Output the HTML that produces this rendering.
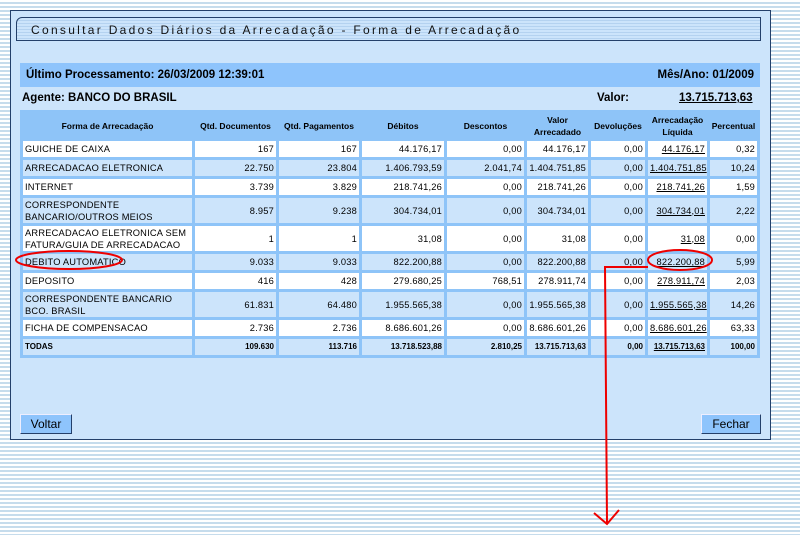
<!DOCTYPE html>
<html><head><meta charset="utf-8"><style>
body{margin:0;width:800px;height:535px;overflow:hidden;position:relative;font-family:"Liberation Sans",sans-serif;
background:repeating-linear-gradient(to bottom,#ffffff 0,#ffffff 2px,#c6dcec 2px,#c6dcec 4px);}
.abs{position:absolute}
#panel{left:10px;top:10px;width:759px;height:428px;background:#cce4fb;border:1px solid #24406a;}
#title{left:16px;top:17px;width:745px;height:24px;background:repeating-linear-gradient(to bottom,#cce4fb 0,#cce4fb 2px,#b4d2f0 2px,#b4d2f0 3px);border:1px solid #24406a;border-top-left-radius:6px;font-size:12px;letter-spacing:2.3px;line-height:24px;padding-left:14px;box-sizing:border-box;color:#111}
#bar{left:20px;top:63px;width:740px;height:24px;background:#8ec4fc;font-weight:bold;font-size:11.5px;line-height:24px}
table{position:absolute;left:20px;top:110px;width:740px;border-collapse:separate;border-spacing:3px;background:#8ec4f8;table-layout:fixed;font-size:9.3px;letter-spacing:0.2px;margin:0}
td,th{padding:0 2px;overflow:hidden;white-space:nowrap}
th{font-weight:bold;font-size:8.5px;letter-spacing:0;background:#8ec4f8;height:25px;line-height:12px;padding:0}
td{height:16px;line-height:10px}
td.n{text-align:right}
tr.w td{background:#fff}
tr.b td{background:#cce4fb}
tr.h2 td{height:25px;line-height:12px}
u{text-decoration:underline}
.btn{background:#8ec4fc;border:1px solid #24406a;border-top-color:#eef;border-left-color:#eef;font-size:12px;text-align:center;line-height:18px;height:18px}
</style></head><body>
<div id="panel" class="abs"></div>
<div id="title" class="abs">Consultar Dados Diários da Arrecadação - Forma de Arrecadação</div>
<div id="bar" class="abs"><span style="margin-left:6px">Último Processamento: 26/03/2009 12:39:01</span><span style="position:absolute;right:6px">Mês/Ano: 01/2009</span></div>
<div class="abs" style="left:22px;top:92px;font-weight:bold;font-size:11.5px">Agente: BANCO DO BRASIL</div>
<div class="abs" style="left:597px;top:92px;font-weight:bold;font-size:11.5px">Valor:</div>
<div class="abs" style="left:679px;top:92px;font-weight:bold;font-size:11.5px;text-decoration:underline">13.715.713,63</div>
<table>
<colgroup><col style="width:169px"><col style="width:81px"><col style="width:80px"><col style="width:82px"><col style="width:77px"><col style="width:61px"><col style="width:54px"><col style="width:59px"><col style="width:47px"></colgroup>
<tr><th>Forma de Arrecadação</th><th>Qtd. Documentos</th><th>Qtd. Pagamentos</th><th>Débitos</th><th>Descontos</th><th>Valor<br>Arrecadado</th><th>Devoluções</th><th>Arrecadação<br>Líquida</th><th>Percentual</th></tr>
<tr class="w"><td>GUICHE DE CAIXA</td><td class="n">167</td><td class="n">167</td><td class="n">44.176,17</td><td class="n">0,00</td><td class="n">44.176,17</td><td class="n">0,00</td><td class="n"><u>44.176,17</u></td><td class="n">0,32</td></tr>
<tr class="b"><td>ARRECADACAO ELETRONICA</td><td class="n">22.750</td><td class="n">23.804</td><td class="n">1.406.793,59</td><td class="n">2.041,74</td><td class="n">1.404.751,85</td><td class="n">0,00</td><td class="n"><u>1.404.751,85</u></td><td class="n">10,24</td></tr>
<tr class="w"><td>INTERNET</td><td class="n">3.739</td><td class="n">3.829</td><td class="n">218.741,26</td><td class="n">0,00</td><td class="n">218.741,26</td><td class="n">0,00</td><td class="n"><u>218.741,26</u></td><td class="n">1,59</td></tr>
<tr class="b h2"><td>CORRESPONDENTE<br>BANCARIO/OUTROS MEIOS</td><td class="n">8.957</td><td class="n">9.238</td><td class="n">304.734,01</td><td class="n">0,00</td><td class="n">304.734,01</td><td class="n">0,00</td><td class="n"><u>304.734,01</u></td><td class="n">2,22</td></tr>
<tr class="w h2"><td>ARRECADACAO ELETRONICA SEM<br>FATURA/GUIA DE ARRECADACAO</td><td class="n">1</td><td class="n">1</td><td class="n">31,08</td><td class="n">0,00</td><td class="n">31,08</td><td class="n">0,00</td><td class="n"><u>31,08</u></td><td class="n">0,00</td></tr>
<tr class="b"><td>DEBITO AUTOMATICO</td><td class="n">9.033</td><td class="n">9.033</td><td class="n">822.200,88</td><td class="n">0,00</td><td class="n">822.200,88</td><td class="n">0,00</td><td class="n"><u>822.200,88</u></td><td class="n">5,99</td></tr>
<tr class="w"><td>DEPOSITO</td><td class="n">416</td><td class="n">428</td><td class="n">279.680,25</td><td class="n">768,51</td><td class="n">278.911,74</td><td class="n">0,00</td><td class="n"><u>278.911,74</u></td><td class="n">2,03</td></tr>
<tr class="b h2"><td>CORRESPONDENTE BANCARIO<br>BCO. BRASIL</td><td class="n">61.831</td><td class="n">64.480</td><td class="n">1.955.565,38</td><td class="n">0,00</td><td class="n">1.955.565,38</td><td class="n">0,00</td><td class="n"><u>1.955.565,38</u></td><td class="n">14,26</td></tr>
<tr class="w"><td>FICHA DE COMPENSACAO</td><td class="n">2.736</td><td class="n">2.736</td><td class="n">8.686.601,26</td><td class="n">0,00</td><td class="n">8.686.601,26</td><td class="n">0,00</td><td class="n"><u>8.686.601,26</u></td><td class="n">63,33</td></tr>
<tr class="b" style="font-weight:bold;font-size:8px;letter-spacing:0"><td>TODAS</td><td class="n">109.630</td><td class="n">113.716</td><td class="n">13.718.523,88</td><td class="n">2.810,25</td><td class="n">13.715.713,63</td><td class="n">0,00</td><td class="n"><u>13.715.713,63</u></td><td class="n">100,00</td></tr>
</table>
<div class="abs btn" style="left:20px;top:414px;width:50px">Voltar</div>
<div class="abs btn" style="left:701px;top:414px;width:58px">Fechar</div>
<svg class="abs" style="left:0;top:0" width="800" height="535">
<g fill="none" stroke="#e00" stroke-width="2">
<ellipse cx="69" cy="260" rx="53" ry="9"/>
<ellipse cx="680" cy="260" rx="32" ry="10"/>
<polyline points="648,267 605,267 607,523"/>
<polyline points="594,513 607,524 619,510"/>
</g></svg>
</body></html>
